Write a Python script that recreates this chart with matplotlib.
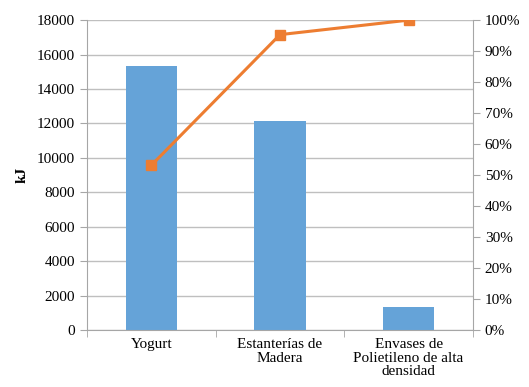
import matplotlib
matplotlib.use('Agg')
import matplotlib.pyplot as plt
import numpy as np
from matplotlib.ticker import FuncFormatter

# energía por etapa (kJ)
categorias = ['Yogurt', 'Estanterías de\nMadera', 'Envases de\nPolietileno de alta\ndensidad']
energia = [15330, 12150, 1350]

plt.rcParams['font.family'] = ['Liberation Serif', 'DejaVu Serif']

def main():
    # porcentaje acumulado para la curva de Pareto
    acumulado = np.cumsum(energia) / np.sum(energia) * 100

    fig = plt.figure(figsize=(5.29, 3.87), dpi=100)
    ax = fig.add_axes([0.1645, 0.147, 0.7295, 0.801])
    x = np.arange(len(categorias))

    ax.bar(x, energia, width=0.4, color='#65A3D8', zorder=2)
    ax.set_xlim(-0.5, 2.5)
    ax.set_ylim(0, 18000)
    ax.set_yticks(range(0, 18001, 2000))
    ax.grid(axis='y', color='#BFBFBF', linewidth=1, zorder=0)

    ax.set_xticks(x)
    ax.set_xticklabels(categorias, fontsize=11, linespacing=1.05)
    ax.tick_params(axis='x', which='major', length=0, pad=6)
    ax.set_xticks([-0.5, 0.5, 1.5, 2.5], minor=True)
    ax.tick_params(axis='x', which='minor', length=5, color='#A6A6A6')
    ax.tick_params(axis='y', length=5, color='#A6A6A6', labelsize=11)
    ax.set_ylabel('kJ', fontsize=11, fontweight='bold', labelpad=6)

    for lado in ['top', 'right']:
        ax.spines[lado].set_visible(False)
    ax.spines['left'].set_color('#A6A6A6')
    ax.spines['bottom'].set_color('#A6A6A6')

    ax2 = ax.twinx()
    ax2.plot(x, acumulado, color='#ED7D31', linewidth=2.2, marker='s',
             markersize=7, zorder=3)
    ax2.set_ylim(0, 100)
    ax2.set_yticks(range(0, 101, 10))
    ax2.yaxis.set_major_formatter(FuncFormatter(lambda v, p: '%d%%' % v))
    ax2.tick_params(axis='y', length=5, color='#A6A6A6', labelsize=11)
    for lado in ['top', 'left', 'bottom']:
        ax2.spines[lado].set_visible(False)
    ax2.spines['right'].set_color('#A6A6A6')

    fig.savefig('out.png', dpi=100)


if __name__ == '__main__':
    main()
